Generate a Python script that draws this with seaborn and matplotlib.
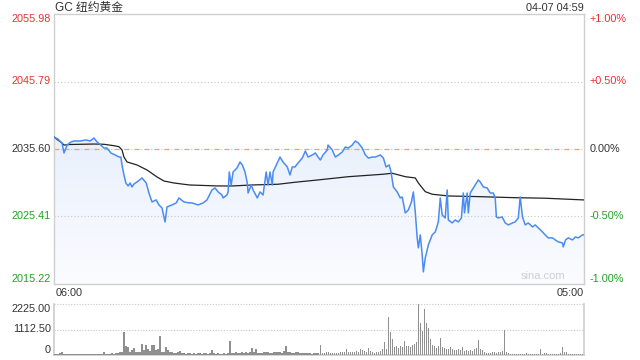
import numpy as np
import pandas as pd
import matplotlib
matplotlib.use("Agg")
import matplotlib.pyplot as plt
import matplotlib.transforms as mtransforms
from matplotlib.colors import LinearSegmentedColormap
import seaborn as sns

# ---------------- data ----------------
title = "GC 纽约黄金"
timestamp = "04-07 04:59"
x_tick_labels = ["06:00", "05:00"]
watermark = "sina.com"
prev_close = 2035.60
price_ticks = [2015.22, 2025.41, 2035.60, 2045.79, 2055.98]
pct_labels = ["-1.00%", "-0.50%", "0.00%", "+0.50%", "+1.00%"]
vol_ticks = [0, 1112.50, 2225.00]
vol_tick_labels = ["0", "1112.50", "2225.00"]
total_minutes = 1380  # 06:00 -> 05:00 next day

price_minutes = [0, 10, 21, 26, 34, 44, 52, 68, 83, 94, 104, 112, 122, 130, 138, 148, 159, 169, 174, 177,
                 182, 187, 193, 198, 203, 208, 216, 229, 240, 247, 255, 266, 273, 281, 289, 294, 307, 318, 325, 338,
                 352, 359, 375, 388, 398, 411, 419, 427, 437, 440, 450, 453, 456, 461, 466, 476, 484, 490, 497, 503,
                 505, 513, 518, 529, 536, 544, 552, 557, 562, 568, 570, 581, 588, 596, 607, 614, 620, 627, 635, 646,
                 654, 661, 672, 680, 687, 693, 700, 711, 713, 724, 732, 740, 750, 758, 766, 776, 784, 792, 802, 810,
                 818, 828, 836, 849, 857, 864, 872, 877, 883, 893, 901, 906, 914, 922, 930, 935, 940, 945, 948, 953,
                 958, 961, 966, 974, 984, 992, 1000, 1005, 1010, 1018, 1023, 1026, 1036, 1044, 1052, 1060, 1065, 1068, 1075, 1078,
                 1083, 1088, 1096, 1104, 1109, 1117, 1127, 1135, 1143, 1148, 1151, 1156, 1166, 1174, 1182, 1193, 1200, 1208, 1213, 1219,
                 1226, 1234, 1245, 1252, 1260, 1271, 1278, 1286, 1297, 1304, 1312, 1323, 1325, 1331, 1338, 1349, 1357, 1364, 1375, 1379]
price_values = [2037.41, 2037.11, 2036.50, 2035.00, 2036.20, 2036.66, 2036.81, 2036.81, 2036.96, 2036.81,
                2037.26, 2036.66, 2036.20, 2035.75, 2035.75, 2035.00, 2034.70, 2034.39, 2034.39, 2033.19,
                2031.68, 2030.47, 2030.02, 2030.47, 2029.87, 2030.32, 2030.62, 2031.23, 2030.47, 2028.96,
                2027.61, 2027.91, 2027.16, 2026.70, 2024.59, 2026.85, 2027.16, 2027.46, 2028.21, 2027.61,
                2027.46, 2027.46, 2027.16, 2027.46, 2027.91, 2029.42, 2029.72, 2029.12, 2028.66, 2028.21,
                2028.66, 2029.12, 2032.13, 2030.17, 2032.13, 2032.73, 2033.64, 2033.19, 2032.13, 2030.47,
                2028.96, 2030.17, 2029.42, 2028.21, 2029.12, 2028.66, 2032.13, 2030.17, 2032.13, 2030.17,
                2032.13, 2033.49, 2034.39, 2033.64, 2032.89, 2031.68, 2032.89, 2032.89, 2033.49, 2034.24,
                2035.30, 2034.39, 2034.70, 2035.00, 2034.39, 2033.94, 2034.70, 2035.45, 2036.20, 2035.45,
                2034.39, 2034.70, 2035.15, 2035.90, 2035.75, 2036.20, 2036.81, 2036.50, 2035.75, 2034.70,
                2034.24, 2034.39, 2034.39, 2034.70, 2034.24, 2032.89, 2033.19, 2032.13, 2029.87, 2029.12,
                2028.21, 2028.36, 2025.95, 2026.40, 2027.61, 2029.12, 2026.10, 2022.18, 2020.67, 2022.63,
                2019.62, 2017.05, 2019.16, 2021.12, 2022.63, 2023.08, 2024.59, 2028.21, 2025.65, 2025.19,
                2029.42, 2024.89, 2024.44, 2024.89, 2024.59, 2025.19, 2028.96, 2025.95, 2028.96, 2025.95,
                2028.96, 2029.42, 2030.17, 2030.93, 2030.62, 2029.87, 2029.72, 2028.96, 2028.96, 2028.21,
                2025.35, 2025.19, 2025.35, 2024.44, 2024.14, 2024.44, 2024.59, 2025.19, 2028.36, 2025.35,
                2024.14, 2024.44, 2023.84, 2024.14, 2023.69, 2023.08, 2022.63, 2022.18, 2022.18, 2021.88,
                2021.58, 2021.42, 2020.82, 2021.88, 2022.18, 2021.88, 2022.33, 2022.18, 2022.63, 2022.63]

avg_minutes = [0, 10, 21, 26, 42, 104, 130, 156, 169, 177, 182, 190, 216, 242, 268, 286, 312, 352, 427, 463,
               516, 583, 627, 687, 766, 854, 880, 914, 940, 948, 966, 984, 1026, 1104, 1193, 1278, 1379]
avg_values = [2037.41, 2036.96, 2036.50, 2036.20, 2036.28, 2036.35, 2036.31, 2036.10, 2035.95, 2035.45,
              2034.39, 2033.64, 2033.19, 2032.43, 2031.38, 2030.77, 2030.47, 2030.17, 2030.02, 2030.02,
              2030.17, 2030.28, 2030.58, 2030.93, 2031.42, 2031.78, 2031.94, 2031.42, 2031.23, 2030.47,
              2029.16, 2028.77, 2028.51, 2028.41, 2028.26, 2028.17, 2027.91]

volume = [40, 60, 30, 80, 120, 50, 40, 30, 35, 30,
          30, 25, 35, 30, 40, 30, 25, 30, 35, 30,
          40, 30, 35, 50, 40, 150, 40, 60, 50, 70,
          60, 80, 100, 150, 110, 990, 400, 340, 120, 200,
          300, 150, 120, 140, 490, 200, 440, 250, 160, 440,
          440, 200, 260, 810, 130, 110, 340, 200, 120, 130,
          90, 80, 110, 180, 70, 90, 60, 70, 80, 60,
          70, 60, 80, 90, 60, 70, 80, 60, 70, 220,
          80, 60, 70, 50, 60, 70, 60, 80, 620, 100,
          90, 110, 80, 100, 120, 90, 110, 80, 110, 300,
          120, 270, 100, 90, 80, 110, 130, 120, 90, 100,
          140, 110, 120, 130, 100, 160, 400, 140, 110, 90,
          80, 120, 140, 90, 80, 70, 100, 80, 70, 60,
          90, 80, 80, 440, 100, 90, 140, 130, 90, 100,
          80, 90, 100, 110, 130, 150, 250, 140, 130, 120,
          140, 160, 130, 250, 200, 160, 140, 300, 160, 110,
          100, 120, 140, 180, 250, 580, 260, 1670, 990, 700,
          350, 400, 300, 380, 330, 620, 400, 380, 350, 420,
          500, 550, 2225, 1380, 1040, 2000, 1380, 1190, 700, 450,
          380, 300, 400, 740, 330, 300, 280, 250, 370, 260,
          230, 210, 250, 200, 370, 180, 200, 170, 220, 180,
          250, 300, 670, 280, 220, 130, 100, 80, 90, 110,
          120, 100, 130, 150, 160, 1110, 120, 80, 60, 50,
          60, 50, 40, 60, 50, 40, 70, 50, 40, 60,
          50, 60, 40, 250, 60, 90, 80, 60, 50, 60,
          40, 50, 60, 80, 370, 150, 110, 60, 50, 40,
          50, 40, 60, 50, 40]

# ---------------- style ----------------
sns.set_theme(style="white")
plt.rcParams["font.family"] = ["Liberation Sans", "Noto Sans CJK SC", "DejaVu Sans"]

RED = "#e8312f"
GREEN = "#21a121"
DARK = "#333333"
FRAME = "#cfcfcf"
BLUE = "#4b8cf2"

fig = plt.figure(figsize=(6.4, 3.6), dpi=100)
W, H = 640, 360
L, R = 54, 584
ax = fig.add_axes([L / W, 1 - 284 / H, (R - L) / W, (284 - 14) / H])
axv = fig.add_axes([L / W, 1 - 355 / H, (R - L) / W, (355 - 304) / H])

ylo, yhi = price_ticks[0], price_ticks[-1]
xmax = total_minutes - 1

df_price = pd.DataFrame({"minute": price_minutes, "price": price_values})
df_avg = pd.DataFrame({"minute": avg_minutes, "price": avg_values})

# gradient fill under price line
poly = ax.fill_between(df_price["minute"], df_price["price"], ylo, color="none", lw=0)
cmap = LinearSegmentedColormap.from_list("fillgrad", ["#fbfcff", "#dae6fa"])
grad = np.linspace(0, 1, 256).reshape(-1, 1)
img = ax.imshow(grad, extent=[0, xmax, ylo, yhi], origin="lower", aspect="auto",
                cmap=cmap, zorder=1)
img.set_clip_path(poly.get_paths()[0], transform=ax.transData)

# gridlines
for v in [price_ticks[1], price_ticks[3], prev_close]:
    ax.axhline(v, color="#c8c8c8", lw=0.8, ls=(0, (1, 2)), zorder=1.5)
ax.axhline(prev_close, color="#f4a070", lw=0.9, ls=(0, (4, 4)), zorder=1.6)

sns.lineplot(data=df_avg, x="minute", y="price", ax=ax, color="#222222", lw=0.9, zorder=3)
sns.lineplot(data=df_price, x="minute", y="price", ax=ax, color=BLUE, lw=1.1, zorder=4)

ax.set_xlim(0, xmax)
ax.set_ylim(ylo, yhi)
ax.set_xticks([])
ax.set_yticks([])
ax.set_xlabel("")
ax.set_ylabel("")
for s in ax.spines.values():
    s.set_color(FRAME)
    s.set_linewidth(1.0)

trans = mtransforms.blended_transform_factory(ax.transAxes, ax.transData)
for i, (v, pl) in enumerate(zip(price_ticks, pct_labels)):
    if v > prev_close + 0.001:
        c = RED
    elif v < prev_close - 0.001:
        c = GREEN
    else:
        c = DARK
    va = "center"
    if i == 0:
        va = "bottom"
    elif i == len(price_ticks) - 1:
        va = "top"
    ax.text(-0.006, v, f"{v:.2f}", transform=trans, ha="right", va=va, color=c, fontsize=7.8)
    ax.text(1.011, v, pl, transform=trans, ha="left", va=va, color=c, fontsize=7.8)

fig.text(L / W + 0.002, 1 - 8 / H, title, ha="left", va="center", fontsize=8.5, color=DARK)
fig.text(R / W, 1 - 8 / H, timestamp, ha="right", va="center", fontsize=7.8, color=DARK)
fig.text(L / W + 0.002, 1 - 293 / H, x_tick_labels[0], ha="left", va="center", fontsize=7.8, color=DARK)
fig.text(R / W, 1 - 293 / H, x_tick_labels[1], ha="right", va="center", fontsize=7.8, color=DARK)
ax.text(0.965, 0.012, watermark, transform=ax.transAxes, ha="right", va="bottom",
        fontsize=8, color="#cfcfcf", zorder=5)

# ---------------- volume ----------------
n = len(volume)
vol_minutes = np.arange(n) * (total_minutes / n)
axv.bar(vol_minutes, volume, width=3.6, color="#8f8f8f", linewidth=0, zorder=3)
axv.set_xlim(0, xmax)
axv.set_ylim(0, vol_ticks[-1])
axv.set_xticks([])
axv.set_yticks([])
for v in vol_ticks[1:]:
    axv.axhline(v, color="#c8c8c8", lw=0.8, ls=(0, (1, 1.5)), zorder=1, clip_on=False)
for k in ["left", "right", "bottom"]:
    axv.spines[k].set_color(FRAME)
axv.spines["top"].set_visible(False)
transv = mtransforms.blended_transform_factory(axv.transAxes, axv.transData)
for v, lab in zip(vol_ticks, vol_tick_labels):
    va = "center"
    if v == vol_ticks[0]:
        va = "bottom"
    elif v == vol_ticks[-1]:
        va = "top"
    axv.text(-0.006, v, lab, transform=transv, ha="right", va=va, fontsize=7.8, color=DARK)

fig.savefig("out.png", dpi=100)
